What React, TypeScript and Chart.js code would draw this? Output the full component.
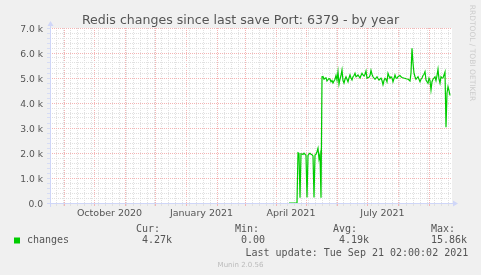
import React, { useEffect, useRef } from 'react';
import { Chart, registerables } from 'chart.js';

Chart.register(...registerables);

// ---------- text ----------
const TITLE = 'Redis changes since last save Port: 6379 - by year';
const SERIES_NAME = 'changes';
const legendHeaders = ['Cur:', 'Min:', 'Avg:', 'Max:'];
const legendValues = ['4.27k', '0.00', '4.19k', '15.86k'];
const lastUpdate = 'Last update: Tue Sep 21 02:00:02 2021';
const footer = 'Munin 2.0.56';
const watermark = 'RRDTOOL / TOBI OETIKER';

// ---------- time axis ----------
const referenceDate = '2020-09-01';
const axisStartDate = '2020-08-18';
const axisEndDate = '2021-09-24';
const firstWeekStart = '2020-08-24';
const monthStarts = [
  '2020-09-01', '2020-10-01', '2020-11-01', '2020-12-01', '2021-01-01', '2021-02-01',
  '2021-03-01', '2021-04-01', '2021-05-01', '2021-06-01', '2021-07-01', '2021-08-01', '2021-09-01',
];
const labelMonthStart = ['2020-10-01', '2021-01-01', '2021-04-01', '2021-07-01'];
const labelMonthEnd = ['2020-11-01', '2021-02-01', '2021-05-01', '2021-08-01'];
const labelTexts = ['October 2020', 'January 2021', 'April 2021', 'July 2021'];

// ---------- value axis ----------
const yMin = 0;
const yMax = 7000;
const yMinorStep = 200;
const yMajorTicks = [0, 1000, 2000, 3000, 4000, 5000, 6000, 7000];
const yMajorLabels = ['0.0', '1.0 k', '2.0 k', '3.0 k', '4.0 k', '5.0 k', '6.0 k', '7.0 k'];

// ---------- series (one value per day, from dataStartDate) ----------
const dataStartDate = '2021-04-14';
const changes = [
  0, 0, 0, 0, 0, 0, 0, 0, 0,
  2010, 1990, 210, 1970, 1960, 1940, 1990, 1950, 1900, 220,
  1900, 1960, 1990, 1950, 1930, 1880, 220, 1920, 1950, 2050,
  2190, 1760, 1950, 210, 5050, 5060, 4950, 4990, 5010, 4880,
  4930, 4980, 4950, 4850, 4900, 4800, 4880, 4950, 5100, 4920,
  5250, 4750, 4950, 5100, 5320, 4900, 4800, 4950, 5050, 4950,
  4850, 5000, 5120, 5000, 4920, 5050, 5100, 5190, 5050, 5080,
  5120, 5060, 5000, 5100, 5190, 5120, 5080, 5150, 5280, 4990,
  5020, 5030, 5100, 5300, 5150, 5050, 5000, 4950, 5000, 5050,
  4980, 4920, 4960, 4990, 4900, 4730, 4900, 4990, 4950, 4850,
  5190, 5080, 4990, 5050, 5000, 4850, 4980, 5120, 5000, 4990,
  5050, 5080, 5100, 5050, 5020, 5010, 4990, 4990, 4970, 4960,
  4950, 4920, 4880, 5200, 6190, 5600, 5190, 5050, 4950, 5000,
  5050, 4950, 4850, 4950, 5000, 5100, 5150, 5250, 4920, 4850,
  4790, 4990, 4900, 4520, 4850, 4950, 5000, 5050, 4900, 5100,
  5350, 4950, 4790, 5050, 5000, 5000, 5120, 5240, 3030, 4400,
  4650, 4500, 4300,
];

// ---------- styles ----------
const BG = '#F0F0F0';
const CANVAS_BG = '#FFFFFF';
const AXIS = '#CFD6F8';
const GRID_MINOR = '#e0e0e0';
const GRID_MAJOR = '#f4b4b4';
const LINE = '#00CC00';
const FONT_COLOR = '#555555';
const SANS = "'DejaVu Sans', sans-serif";
const MONO = "'DejaVu Sans Mono', monospace";

const dayOf = (s: string) => (Date.parse(s) - Date.parse(referenceDate)) / 86400000;

const xMin = dayOf(axisStartDate);
const xMax = dayOf(axisEndDate);
const dataStartDay = dayOf(dataStartDate);

type Kind = 'minor' | 'major' | 'label';
const xKinds = new Map<number, Kind>();
for (let d = dayOf(firstWeekStart); d <= xMax; d += 7) xKinds.set(d, 'minor');
monthStarts.forEach((m) => xKinds.set(dayOf(m), 'major'));
const xLabelMap = new Map<number, string>();
labelTexts.forEach((t, i) => {
  const mid = (dayOf(labelMonthStart[i]) + dayOf(labelMonthEnd[i])) / 2;
  xKinds.set(mid, 'label');
  xLabelMap.set(mid, t);
});
const xTickValues = Array.from(xKinds.keys()).filter((v) => v >= xMin && v <= xMax).sort((a, b) => a - b);

const yTickValues: number[] = [];
for (let v = yMin; v <= yMax; v += yMinorStep) yTickValues.push(v);
const yLabelMap = new Map<number, string>();
yMajorTicks.forEach((v, i) => yLabelMap.set(v, yMajorLabels[i]));

const xGridColor = (ctx: any) => {
  const k = ctx.tick ? xKinds.get(ctx.tick.value) : undefined;
  if (k === 'major') return GRID_MAJOR;
  if (k === 'minor') return GRID_MINOR;
  return 'rgba(0,0,0,0)';
};
const yGridColor = (ctx: any) => {
  if (!ctx.tick) return GRID_MINOR;
  return yLabelMap.has(ctx.tick.value) ? GRID_MAJOR : GRID_MINOR;
};

const decorPlugin = {
  id: 'decor',
  beforeDraw(chart: any) {
    const { ctx, chartArea } = chart;
    ctx.save();
    ctx.fillStyle = CANVAS_BG;
    ctx.fillRect(chartArea.left, chartArea.top, chartArea.right - chartArea.left, chartArea.bottom - chartArea.top);
    ctx.restore();
  },
  afterDraw(chart: any) {
    const { ctx, chartArea } = chart;
    const { left, right, top, bottom } = chartArea;
    const bx = Math.round(left) + 0.5;
    const by = Math.round(bottom) + 0.5;
    ctx.save();
    // axis lines with extensions
    ctx.strokeStyle = AXIS;
    ctx.lineWidth = 1;
    ctx.setLineDash([]);
    ctx.beginPath();
    ctx.moveTo(left - 3, by);
    ctx.lineTo(right + 1, by);
    ctx.moveTo(bx, bottom + 4);
    ctx.lineTo(bx, top - 2);
    ctx.stroke();
    // arrows
    ctx.fillStyle = AXIS;
    ctx.beginPath();
    ctx.moveTo(right + 1, by - 3);
    ctx.lineTo(right + 6, by);
    ctx.lineTo(right + 1, by + 3);
    ctx.closePath();
    ctx.fill();
    ctx.beginPath();
    ctx.moveTo(bx - 3, top - 2);
    ctx.lineTo(bx, top - 7);
    ctx.lineTo(bx + 3, top - 2);
    ctx.closePath();
    ctx.fill();

    // title
    ctx.fillStyle = FONT_COLOR;
    ctx.font = `12.6px ${SANS}`;
    ctx.textAlign = 'center';
    ctx.textBaseline = 'alphabetic';
    ctx.fillText(TITLE, chart.width / 2, 24);

    // watermark
    ctx.save();
    ctx.translate(471.5, 53);
    ctx.rotate(Math.PI / 2);
    ctx.fillStyle = '#cccccc';
    ctx.font = `7.5px ${SANS}`;
    ctx.textAlign = 'center';
    ctx.textBaseline = 'middle';
    ctx.fillText(watermark, 0, 0);
    ctx.restore();

    // legend
    ctx.font = `10px ${MONO}`;
    ctx.textAlign = 'left';
    ctx.textBaseline = 'alphabetic';
    ctx.fillStyle = FONT_COLOR;
    const headerX = [136, 235, 333, 431];
    const valueX = [142, 241, 339, 431];
    legendHeaders.forEach((h, i) => ctx.fillText(h, headerX[i], 231.5));
    legendValues.forEach((v, i) => ctx.fillText(v, valueX[i], 242.5));
    ctx.fillText(SERIES_NAME, 27, 242.5);
    ctx.fillText(lastUpdate, 245.5, 255.8);
    ctx.fillStyle = LINE;
    ctx.fillRect(14, 237.5, 6, 6);

    // footer
    ctx.fillStyle = '#bbbbbb';
    ctx.font = `7px ${SANS}`;
    ctx.textAlign = 'center';
    ctx.fillText(footer, 240.5, 266.5);
    ctx.restore();
  },
};

export default function App() {
  const ref = useRef<HTMLCanvasElement>(null);
  useEffect(() => {
    document.documentElement.style.background = BG;
    document.body.style.margin = '0';
    document.body.style.background = BG;
    Chart.defaults.font.family = SANS;
    const chart = new Chart(ref.current!, {
      type: 'line',
      data: {
        datasets: [
          {
            label: SERIES_NAME,
            data: changes.map((v, i) => ({ x: dataStartDay + i, y: v })),
            borderColor: LINE,
            borderWidth: 1.2,
            pointRadius: 0,
            tension: 0,
            fill: false,
          },
        ],
      },
      options: {
        responsive: false,
        devicePixelRatio: 1,
        animation: false,
        events: [],
        layout: { padding: { top: 28, right: 29, bottom: 50, left: 0 } },
        plugins: { legend: { display: false }, tooltip: { enabled: false }, title: { display: false } },
        scales: {
          x: {
            type: 'linear',
            min: xMin,
            max: xMax,
            afterBuildTicks: (s: any) => {
              s.ticks = xTickValues.map((v) => ({ value: v }));
            },
            afterFit: (s: any) => {
              s.height = 22;
            },
            ticks: {
              autoSkip: false,
              maxRotation: 0,
              minRotation: 0,
              padding: 1.5,
              color: FONT_COLOR,
              font: { size: 9.5, family: SANS },
              callback: (v: any) => xLabelMap.get(v) ?? '',
            },
            grid: {
              color: xGridColor,
              tickColor: xGridColor,
              tickLength: 3,
              lineWidth: 1,
            },
            border: { display: false, dash: (ctx: any) => (ctx.tick ? [1, 1] : []) },
          },
          y: {
            type: 'linear',
            min: yMin,
            max: yMax,
            afterBuildTicks: (s: any) => {
              s.ticks = yTickValues.map((v) => ({ value: v }));
            },
            afterFit: (s: any) => {
              s.width = 50;
            },
            ticks: {
              autoSkip: false,
              padding: 4,
              labelOffset: 1.2,
              color: FONT_COLOR,
              font: { size: 9.2, family: SANS },
              callback: (v: any) => yLabelMap.get(v) ?? '',
            },
            grid: {
              color: yGridColor,
              tickColor: '#d6dcf4',
              tickLength: 3,
              lineWidth: 1,
            },
            border: { display: false, dash: (ctx: any) => (ctx.tick ? [1, 1] : []) },
          },
        },
      },
      plugins: [decorPlugin],
    } as any);
    return () => chart.destroy();
  }, []);
  return (
    <div style={{ width: 481, height: 275, background: BG }}>
      <canvas ref={ref} width={481} height={275} style={{ display: 'block', width: 481, height: 275 }} />
    </div>
  );
}
